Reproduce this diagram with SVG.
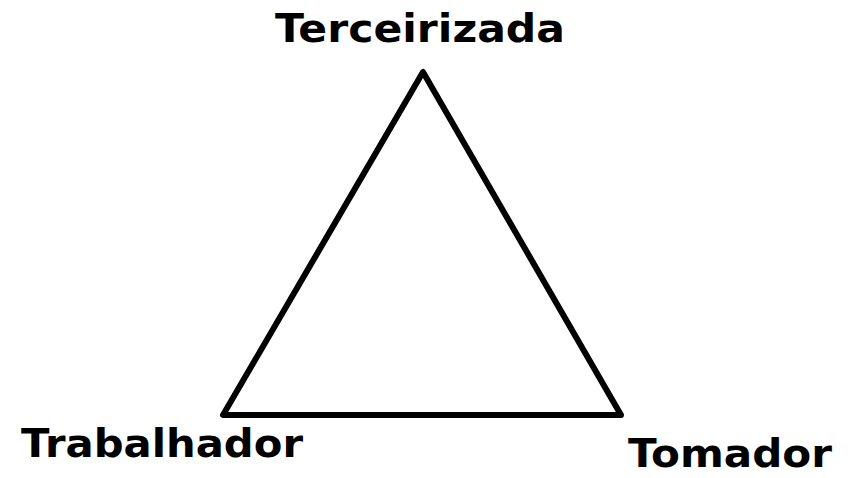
<svg xmlns="http://www.w3.org/2000/svg" width="856" height="478" viewBox="0 0 856 478">
<style>
.lbl{font-family:"DejaVu Sans",Verdana,sans-serif;font-weight:bold;font-size:39px;fill:#000}
.edge{fill:none;stroke:#000;stroke-width:6;stroke-linejoin:round;stroke-linecap:round}
</style>
<rect width="856" height="478" fill="#fff"/>
<g id="connectors">
<polygon class="edge" points="423,72 223,415 621,415"/>
</g>
<g id="terceirizada"><text class="lbl" x="275" y="42" textLength="290" lengthAdjust="spacingAndGlyphs">Terceirizada</text></g>
<g id="trabalhador"><text class="lbl" x="21" y="457" textLength="282" lengthAdjust="spacingAndGlyphs">Trabalhador</text></g>
<g id="tomador"><text class="lbl" x="628" y="467" textLength="204" lengthAdjust="spacingAndGlyphs">Tomador</text></g>
</svg>
